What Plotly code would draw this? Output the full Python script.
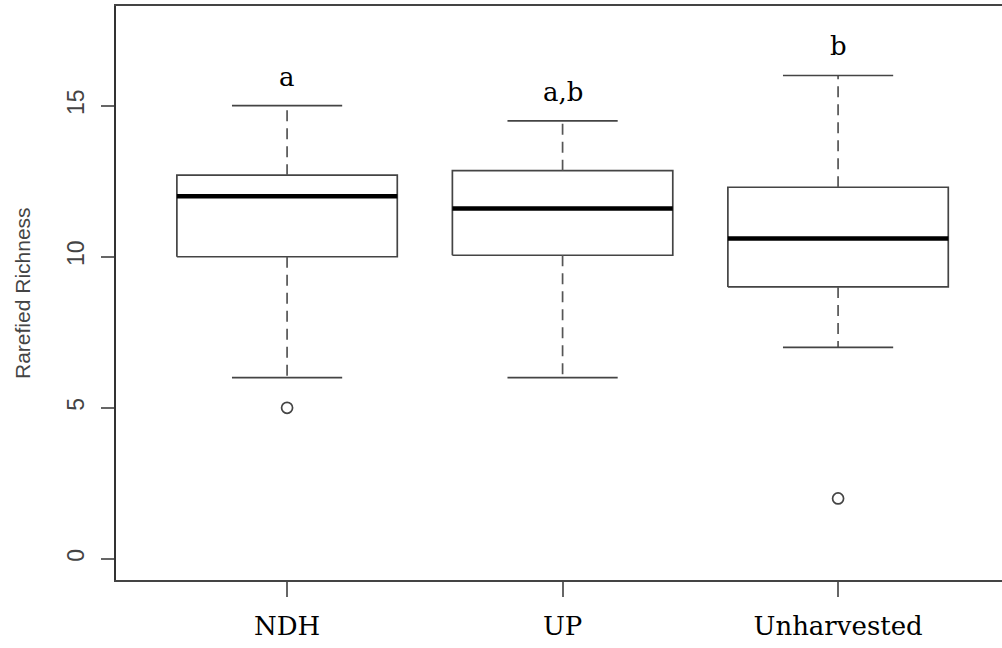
import plotly.graph_objects as go

categories = ["NDH", "UP", "Unharvested"]
q1 = [10.0, 10.05, 9.0]
median = [12.0, 11.6, 10.6]
q3 = [12.7, 12.85, 12.3]
lower_whisker = [6.0, 6.0, 7.0]
upper_whisker = [15.0, 14.5, 16.0]
outliers = [[5.0], [], [2.0]]
letters = ["a", "a,b", "b"]
y_ticks = [0, 5, 10, 15]

W, H = 1002, 648
box_half = 0.4
cap_half = 0.2
gray = "#444444"

fig = go.Figure()
for i, cat in enumerate(categories):
    x = i + 1
    # box
    fig.add_trace(go.Scatter(
        x=[x - box_half, x + box_half, x + box_half, x - box_half, x - box_half],
        y=[q1[i], q1[i], q3[i], q3[i], q1[i]],
        mode="lines", line=dict(color=gray, width=1.7), hoverinfo="skip"))
    # whiskers (dashed)
    fig.add_trace(go.Scatter(
        x=[x, x, None, x, x],
        y=[q3[i], upper_whisker[i], None, q1[i], lower_whisker[i]],
        mode="lines", line=dict(color="#555555", width=1.7, dash="11px,7px"),
        hoverinfo="skip"))
    # caps
    fig.add_trace(go.Scatter(
        x=[x - cap_half, x + cap_half, None, x - cap_half, x + cap_half],
        y=[upper_whisker[i], upper_whisker[i], None, lower_whisker[i], lower_whisker[i]],
        mode="lines", line=dict(color=gray, width=1.7), hoverinfo="skip"))
    # median
    fig.add_trace(go.Scatter(
        x=[x - box_half, x + box_half], y=[median[i], median[i]],
        mode="lines", line=dict(color="black", width=4.5), hoverinfo="skip"))
    # outliers
    if outliers[i]:
        fig.add_trace(go.Scatter(
            x=[x] * len(outliers[i]), y=outliers[i], mode="markers",
            marker=dict(symbol="circle-open", size=11, color=gray,
                        line=dict(width=1.7, color=gray)),
            hoverinfo="skip"))
    # significance letters
    fig.add_annotation(
        x=x, y=upper_whisker[i], xref="x", yref="y", text=letters[i],
        showarrow=False, yanchor="bottom", yshift=12,
        font=dict(family="DejaVu Serif", size=26, color="black"))

left, right, top, bottom = 116, 0, 6, 68
fig.add_annotation(
    x=-(left - 22) / (W - left - right), y=0.5, xref="paper", yref="paper",
    text="Rarefied Richness", textangle=-90, showarrow=False,
    xanchor="center", yanchor="middle",
    font=dict(family="Liberation Sans", size=21, color="#444444"))

fig.update_layout(
    width=W, height=H, showlegend=False,
    paper_bgcolor="white", plot_bgcolor="white",
    margin=dict(l=left, r=right, t=top, b=bottom),
    xaxis=dict(
        range=[0.379, 3.595], tickvals=[1, 2, 3], ticktext=categories,
        showgrid=False, zeroline=False, showline=True, linecolor=gray,
        linewidth=1.8, mirror=True, ticks="outside", ticklen=15,
        tickcolor="#666666", tickwidth=1.5,
        tickfont=dict(family="DejaVu Serif", size=26, color="black"),
        ticklabelstandoff=7),
    yaxis=dict(
        range=[-0.7, 18.3], tickvals=y_ticks, showgrid=False, zeroline=False,
        showline=True, linecolor="#333333", linewidth=1.8, mirror=False,
        ticks="outside", ticklen=13, tickcolor="#666666", tickwidth=1.5,
        tickangle=-90,
        tickfont=dict(family="Liberation Sans", size=23, color="#444444"),
        ticklabelstandoff=8),
)

fig.write_html("out.html")
